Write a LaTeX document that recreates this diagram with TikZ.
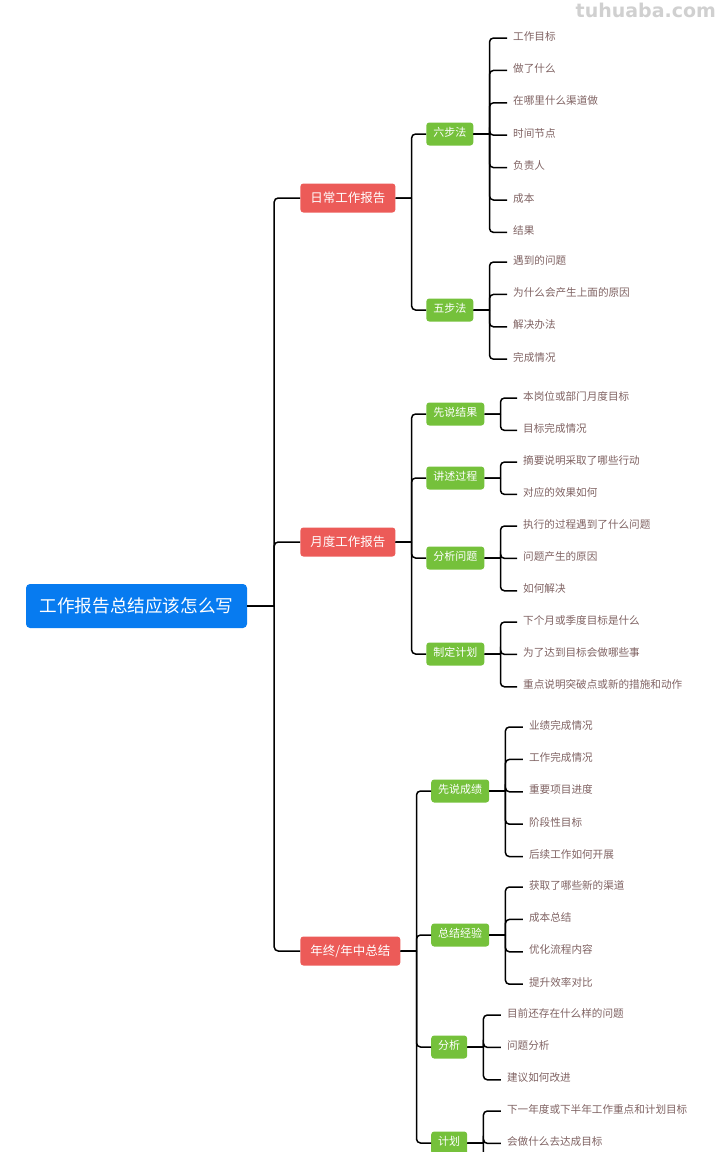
\documentclass[tikz,border=0pt]{standalone}
\usepackage{fontspec}
\setmainfont{Noto Sans CJK SC}
\newfontfamily\markfont{DejaVu Sans}
\usetikzlibrary{positioning}
\definecolor{RootColor}{HTML}{077BF0}
\definecolor{TopicColor}{HTML}{EC5B58}
\definecolor{StepColor}{HTML}{75C13B}
\definecolor{LeafColor}{HTML}{7F6262}
\definecolor{MarkColor}{HTML}{D0D0D0}
\tikzset{
	rootbox/.style={fill=RootColor,text=white,rounded corners=4pt,inner xsep=13.7pt,minimum height=44pt,inner ysep=0pt,font=\fontsize{17.6pt}{20pt}\selectfont},
	topicbox/.style={fill=TopicColor,text=white,rounded corners=3pt,inner xsep=10pt,minimum height=29pt,inner ysep=0pt,font=\fontsize{12.5pt}{15pt}\selectfont},
	stepbox/.style={fill=StepColor,text=white,rounded corners=3pt,inner xsep=7pt,minimum height=23pt,inner ysep=0pt,text height=8.4pt,text depth=3pt,font=\fontsize{11pt}{13pt}\selectfont},
	leaf/.style={text=LeafColor,inner xsep=6pt,inner ysep=0pt,minimum height=16pt,text height=8.5pt,text depth=4.5pt,font=\fontsize{10.6pt}{13pt}\selectfont},
	link/.style={line width=1.5pt,to path={-- ++(#1,0) [rounded corners=4pt] ++(0,0) |- (\tikztotarget)}},
	link/.default=16pt
}

\begin{document}
\begin{tikzpicture}[node distance=16pt]
	\useasboundingbox (0,0) rectangle (720pt,-1152pt);
	\node[rootbox] (root) at (136.5pt,-606pt) {工作报告总结应该怎么写};
	\node[text=MarkColor,anchor=east,font=\markfont\bfseries\fontsize{19pt}{20pt}\selectfont] (mark) at (719.5pt,-10pt) {tuhuaba.com};

	\node[topicbox,right=53pt of root,yshift=408pt] (daily) {日常工作报告};
	\node[topicbox,right=53pt of root,yshift=64pt] (month) {月度工作报告};
	\node[topicbox,right=53pt of root,yshift=-345pt] (year) {年终/年中总结};

	\node[stepbox,right=30.5pt of daily,yshift=64pt] (six) {六步法};
	\node[stepbox,right=30.5pt of daily,yshift=-112pt] (five) {五步法};
	\node[stepbox,right=30.5pt of month,yshift=128pt] (result) {先说结果};
	\node[stepbox,right=30.5pt of month,yshift=64pt] (process) {讲述过程};
	\node[stepbox,right=30.5pt of month,yshift=-16pt] (issue) {分析问题};
	\node[stepbox,right=30.5pt of month,yshift=-112pt] (scheme) {制定计划};
	\node[stepbox,right=30.5pt of year,yshift=160pt] (score) {先说成绩};
	\node[stepbox,right=30.5pt of year,yshift=16pt] (lesson) {总结经验};
	\node[stepbox,right=30.5pt of year,yshift=-96pt] (review) {分析};
	\node[stepbox,right=30.5pt of year,yshift=-192pt] (plan) {计划};

	\node[leaf,right=33.5pt of six,yshift=96pt] (sixa) {工作目标};
	\node[leaf,below=of sixa.south west,anchor=north west] (sixb) {做了什么};
	\node[leaf,below=of sixb.south west,anchor=north west] (sixc) {在哪里什么渠道做};
	\node[leaf,below=of sixc.south west,anchor=north west] (sixd) {时间节点};
	\node[leaf,below=of sixd.south west,anchor=north west] (sixe) {负责人};
	\node[leaf,below=of sixe.south west,anchor=north west] (sixf) {成本};
	\node[leaf,below=of sixf.south west,anchor=north west] (sixg) {结果};

	\node[leaf,right=33.5pt of five,yshift=48pt] (fivea) {遇到的问题};
	\node[leaf,below=of fivea.south west,anchor=north west] (fiveb) {为什么会产生上面的原因};
	\node[leaf,below=of fiveb.south west,anchor=north west] (fivec) {解决办法};
	\node[leaf,below=of fivec.south west,anchor=north west] (fived) {完成情况};

	\node[leaf,right=32.5pt of result,yshift=16pt] (resulta) {本岗位或部门月度目标};
	\node[leaf,below=of resulta.south west,anchor=north west] (resultb) {目标完成情况};

	\node[leaf,right=32.5pt of process,yshift=16pt] (processa) {摘要说明采取了哪些行动};
	\node[leaf,below=of processa.south west,anchor=north west] (processb) {对应的效果如何};

	\node[leaf,right=32.5pt of issue,yshift=32pt] (issuea) {执行的过程遇到了什么问题};
	\node[leaf,below=of issuea.south west,anchor=north west] (issueb) {问题产生的原因};
	\node[leaf,below=of issueb.south west,anchor=north west] (issuec) {如何解决};

	\node[leaf,right=32.5pt of scheme,yshift=32pt] (schemea) {下个月或季度目标是什么};
	\node[leaf,below=of schemea.south west,anchor=north west] (schemeb) {为了达到目标会做哪些事};
	\node[leaf,below=of schemeb.south west,anchor=north west] (schemec) {重点说明突破点或新的措施和动作};

	\node[leaf,right=33.5pt of score,yshift=64pt] (scorea) {业绩完成情况};
	\node[leaf,below=of scorea.south west,anchor=north west] (scoreb) {工作完成情况};
	\node[leaf,below=of scoreb.south west,anchor=north west] (scorec) {重要项目进度};
	\node[leaf,below=of scorec.south west,anchor=north west] (scored) {阶段性目标};
	\node[leaf,below=of scored.south west,anchor=north west] (scoree) {后续工作如何开展};

	\node[leaf,right=33.5pt of lesson,yshift=48pt] (lessona) {获取了哪些新的渠道};
	\node[leaf,below=of lessona.south west,anchor=north west] (lessonb) {成本总结};
	\node[leaf,below=of lessonb.south west,anchor=north west] (lessonc) {优化流程内容};
	\node[leaf,below=of lessonc.south west,anchor=north west] (lessond) {提升效率对比};

	\node[leaf,right=33.5pt of review,yshift=32pt] (reviewa) {目前还存在什么样的问题};
	\node[leaf,below=of reviewa.south west,anchor=north west] (reviewb) {问题分析};
	\node[leaf,below=of reviewb.south west,anchor=north west] (reviewc) {建议如何改进};

	\node[leaf,right=33.5pt of plan,yshift=32pt] (plana) {下一年度或下半年工作重点和计划目标};
	\node[leaf,below=of plana.south west,anchor=north west] (planb) {会做什么去达成目标};
	\coordinate[right=33.5pt of plan,yshift=-32pt] (planc);

	\foreach \to in {daily,month,year} \draw[link=27pt] (root.east) to (\to.west);
	\foreach \to in {six,five} \draw[link] (daily.east) to (\to.west);
	\foreach \to in {result,process,issue,scheme} \draw[link] (month.east) to (\to.west);
	\foreach \to in {score,lesson,review,plan} \draw[link] (year.east) to (\to.west);
	\foreach \to in {sixa,sixb,sixc,sixd,sixe,sixf,sixg} \draw[link] (six.east) to (\to.west);
	\foreach \to in {fivea,fiveb,fivec,fived} \draw[link] (five.east) to (\to.west);
	\foreach \to in {resulta,resultb} \draw[link] (result.east) to (\to.west);
	\foreach \to in {processa,processb} \draw[link] (process.east) to (\to.west);
	\foreach \to in {issuea,issueb,issuec} \draw[link] (issue.east) to (\to.west);
	\foreach \to in {schemea,schemeb,schemec} \draw[link] (scheme.east) to (\to.west);
	\foreach \to in {scorea,scoreb,scorec,scored,scoree} \draw[link] (score.east) to (\to.west);
	\foreach \to in {lessona,lessonb,lessonc,lessond} \draw[link] (lesson.east) to (\to.west);
	\foreach \to in {reviewa,reviewb,reviewc} \draw[link] (review.east) to (\to.west);
	\foreach \to in {plana,planb} \draw[link] (plan.east) to (\to.west);
	\draw[link] (plan.east) to (planc);
\end{tikzpicture}
\end{document}
